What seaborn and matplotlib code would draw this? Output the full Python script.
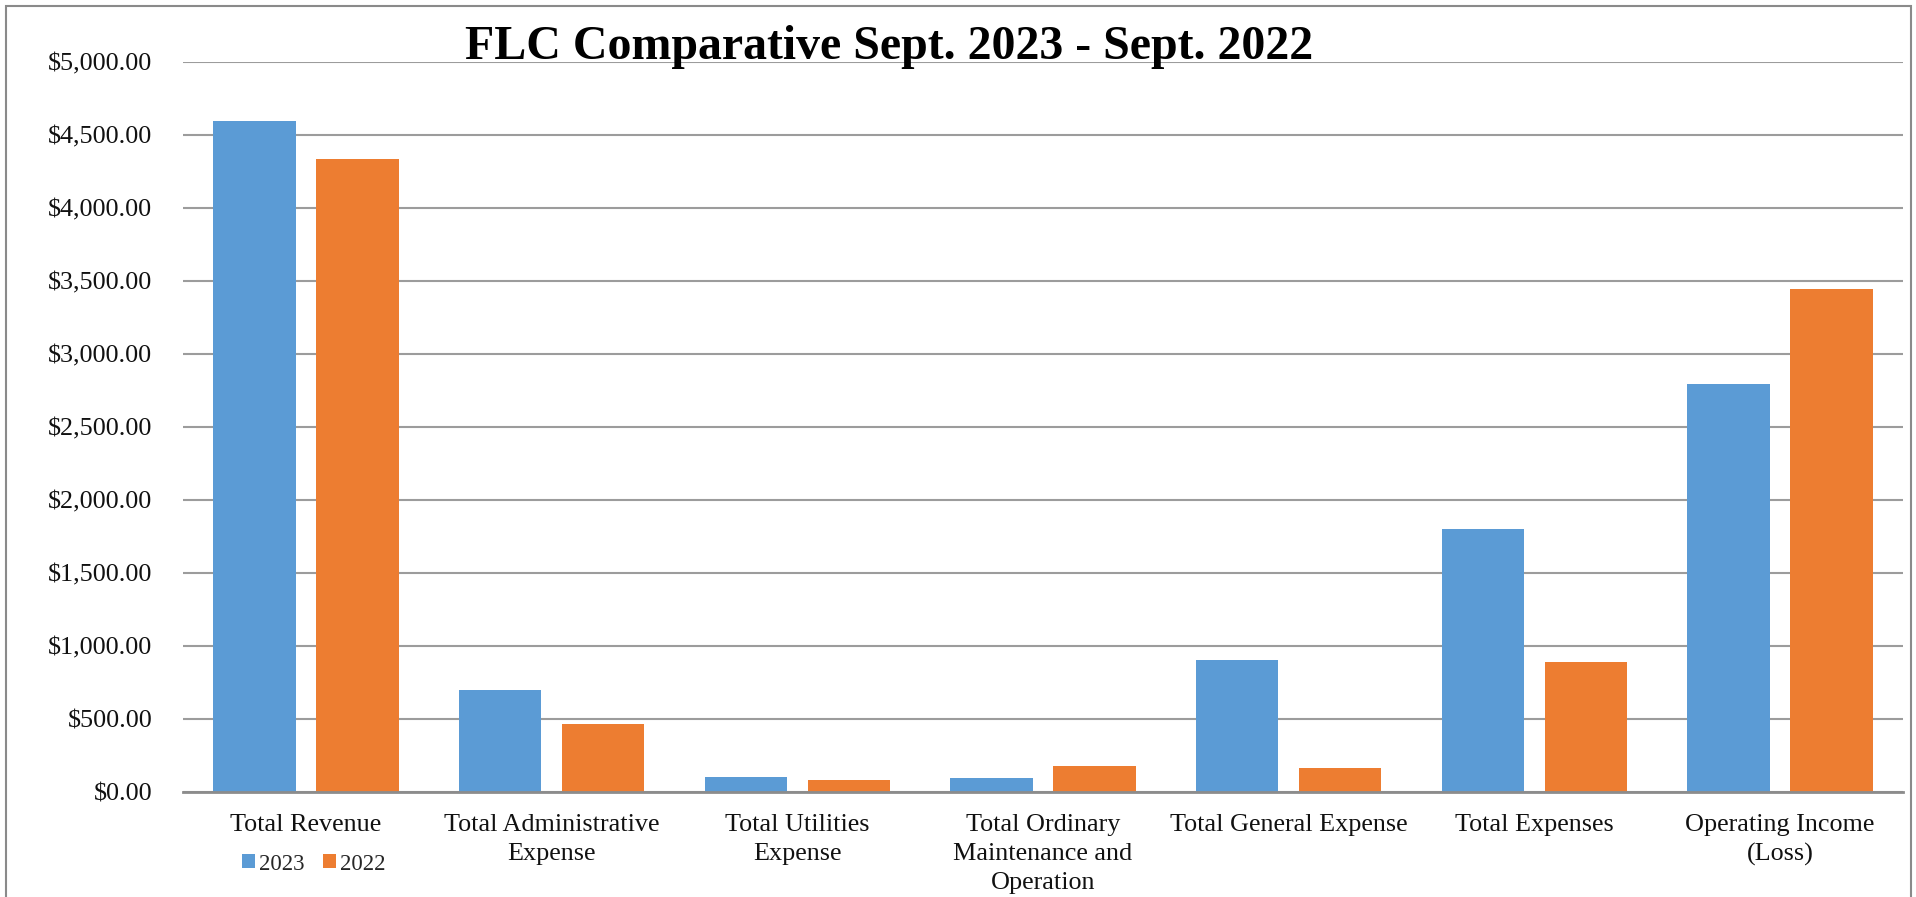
import matplotlib
matplotlib.use("Agg")
import matplotlib.pyplot as plt
import matplotlib.patches as mpatches
from matplotlib.ticker import FuncFormatter, MultipleLocator
import seaborn as sns
import pandas as pd

# Financial summary, Sept. 2023 vs Sept. 2022
categories = [
    "Total Revenue",
    "Total Administrative\nExpense",
    "Total Utilities\nExpense",
    "Total Ordinary\nMaintenance and\nOperation",
    "Total General Expense",
    "Total Expenses",
    "Operating Income\n(Loss)",
]
values_2023 = [4595, 698, 101, 96, 904, 1799, 2796]
values_2022 = [4340, 469, 82, 178, 165, 894, 3446]
years = ["2023", "2022"]
title = "FLC Comparative Sept. 2023 - Sept. 2022"

colors = {"2023": "#5B9BD5", "2022": "#ED7D31"}

df = pd.DataFrame({
    "Category": categories * 2,
    "Amount": values_2023 + values_2022,
    "Year": [years[0]] * len(categories) + [years[1]] * len(categories),
})

sns.set_style("white")
plt.rcParams["font.family"] = ["Liberation Serif", "DejaVu Serif"]

W, H = 1916, 897
fig = plt.figure(figsize=(W / 100, H / 100), dpi=100)
ax = fig.add_axes([183 / W, 1 - 792 / H, (1903 - 183) / W, (792 - 62.3) / H])

sns.barplot(
    data=df, x="Category", y="Amount", hue="Year",
    hue_order=years, palette=colors, order=categories,
    width=0.838, gap=0.2, linewidth=0, saturation=1,
    errorbar=None, ax=ax, zorder=3,
)

ax.set_ylim(0, 5000)
ax.set_xlim(-0.5, len(categories) - 0.5)
ax.yaxis.set_major_locator(MultipleLocator(500))
ax.yaxis.set_major_formatter(FuncFormatter(lambda v, _: f"${v:,.2f}"))
ax.grid(axis="y", color="#9c9c9c", linewidth=1.5, zorder=0)
ax.grid(axis="x", visible=False)
ax.set_axisbelow(True)
for side in ("top", "left", "right"):
    ax.spines[side].set_visible(False)
ax.spines["bottom"].set_color("#8c8c8c")
ax.spines["bottom"].set_linewidth(2)
ax.spines["bottom"].set_zorder(4)

ax.set_xlabel("")
ax.set_ylabel("")
ax.tick_params(axis="y", length=0, pad=22, labelsize=18.8, labelcolor="#111111")
ax.tick_params(axis="x", length=0, pad=16, labelsize=18.8, labelcolor="#111111")
for lbl in ax.get_xticklabels():
    lbl.set_linespacing(1.4)

# legend below the first category
handles, labels = ax.get_legend_handles_labels()
ax.get_legend().remove()
fig.legend(
    handles, labels, loc="center", bbox_to_anchor=(314 / W, 1 - 864 / H),
    ncol=2, frameon=False, fontsize=16.5, handlelength=0.55, handleheight=0.55,
    handletextpad=0.2, columnspacing=0.8, borderpad=0,
)

fig.text(889 / W, 1 - 59 / H, title, ha="center", va="baseline",
         fontsize=34.5, fontweight="bold", color="black")

# chart area border
fig.patches.append(mpatches.Rectangle(
    (6 / W, -0.02), (1911 - 6) / W, 1.02 - 6 / H,
    transform=fig.transFigure, fill=False, edgecolor="#8a8a8a",
    linewidth=1.5, clip_on=False,
))

fig.savefig("out.png", dpi=100)
